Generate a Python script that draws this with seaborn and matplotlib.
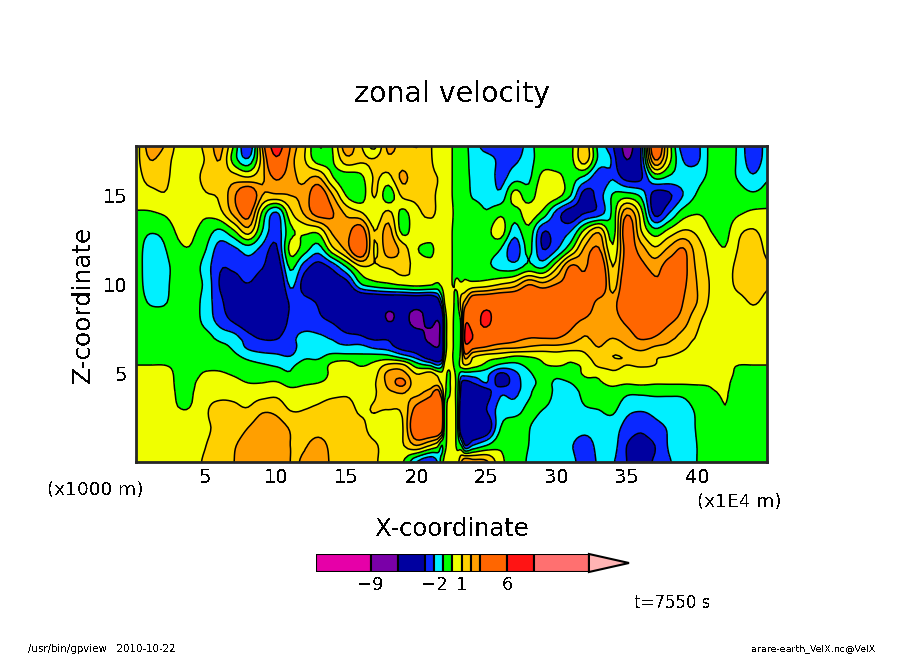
import numpy as np
import matplotlib
matplotlib.use("Agg")
import matplotlib.pyplot as plt
from matplotlib.colors import BoundaryNorm, ListedColormap
from matplotlib.ticker import MultipleLocator
import seaborn as sns

# Grid (x in 1E4 m, z in 1000 m)
x_coord = list(range(0, 22)) + [21.5, 21.8, 22.0, 22.3, 22.55, 22.9, 23.2, 23.5] + list(range(24, 46))
z_coord = [17.8, 17, 16, 15, 14, 13, 12, 11, 10, 9, 8, 7, 6.5, 6, 5.5, 5, 4.5, 4, 3, 2, 1, 0.07]

velx = [
    # z=17.8
    [0.6,2.5,2.0,0.7,0.5,1.3,2.3,-0.2,-3.0,2.0,7.5,3.0,1.2,-1.0,0.0,2.6,1.2,-0.3,2.3,1.5,2.1,1.1,
     0.7,0.6,0.5,0.5,0.0,-0.4,-0.6,-0.8,
     -1.5,-2.4,-2.5,-2.7,-1.5,-0.4,-0.9,-0.3,1.6,-1.4,-2.8,-7.0,-3.0,4.5,0.6,-2.5,-2.3,-0.7,-0.6,-1.2,-3.0,-1.5],
    # z=17
    [0.7,2.0,1.5,0.6,0.5,1.1,2.0,-0.5,-1.8,1.5,5.5,2.5,1.1,-0.5,-0.1,1.6,1.2,1.1,1.7,1.5,1.2,1.1,
     0.6,0.5,0.5,0.5,0.0,-0.4,-0.5,-0.6,
     -1.5,-1.6,-2.2,-2.2,-1.4,-0.5,-0.7,-0.3,1.5,-1.3,-2.2,-6.0,-3.0,3.0,0.4,-2.0,-2.2,-0.7,-0.6,-1.2,-2.7,-1.5],
    # z=16
    [0.6,1.4,1.3,0.5,0.6,1.3,1.5,1.5,1.1,1.8,3.2,2.3,1.8,2.1,0.1,-0.5,-0.3,1.1,0.7,2.2,1.3,1.2,
     1.0,0.7,0.6,0.6,0.0,-0.4,-0.5,-0.7,
     -1.2,-1.3,-2.3,-1.4,-1.2,0.3,0.3,-0.5,-1.3,-2.7,-2.1,-3.5,-3.2,-0.8,-1.2,-1.5,-1.3,-0.8,-0.7,-1.1,-1.8,-1.1],
    # z=15
    [0.5,0.6,0.9,0.5,0.5,0.9,1.2,2.8,4.5,2.0,1.8,2.0,2.3,4.0,2.1,-0.05,-0.6,1.1,-0.6,1.2,1.2,1.2,
     0.9,0.6,0.5,0.5,0.0,-0.4,-0.5,-0.6,
     -1.1,-1.3,-1.7,0.4,-0.5,0.7,0.4,-1.0,-3.5,-2.5,-0.9,-0.5,-1.2,-3.5,-3.2,-2.0,-0.9,-0.6,-0.5,-0.6,-0.8,-0.6],
    # z=14
    [-0.1,-0.1,0.1,0.5,0.5,0.2,0.7,2.3,3.5,-0.2,-2.2,0.7,2.1,3.5,3.1,1.8,1.2,0.2,1.3,-0.3,0.8,1.1,
     0.9,0.6,0.5,0.5,0.1,-0.4,-0.4,-0.4,
     -0.4,-0.9,-0.2,-0.5,0.5,-0.3,-2.4,-3.6,-3.0,-2.5,-0.7,2.8,0.5,-3.3,-2.0,-0.5,-0.05,-0.3,-0.4,-0.1,0.2,0.2],
    # z=13
    [-0.5,-0.9,-0.7,0.15,0.15,-0.5,-1.2,-0.1,1.5,-1.0,-2.6,-0.3,0.2,0.3,2.2,2.5,3.8,1.0,2.4,-0.3,0.7,0.6,
     0.6,0.5,0.5,0.5,0.0,-0.5,-0.4,-0.4,
     -0.4,-0.3,0.5,-1.5,-0.3,-2.9,-2.5,-2.0,0.3,1.8,-0.5,4.0,1.1,-0.6,0.3,1.1,0.8,0.0,-0.3,0.8,1.1,0.6],
    # z=12
    [-0.5,-1.5,-1.1,-0.2,-0.1,-1.0,-2.5,-2.2,-1.5,-2.3,-3.2,0.3,-0.5,-1.5,0.7,2.3,4.5,0.9,2.6,1.6,0.1,-0.2,
     0.3,0.4,0.5,0.5,0.0,-0.5,-0.5,-0.4,
     -0.1,-0.5,-1.0,-2.7,-0.7,-3.0,-2.1,-0.2,2.2,3.1,0.2,3.5,2.5,1.2,2.2,3.1,1.5,0.6,0.05,1.1,1.6,0.8],
    # z=11
    [-0.5,-1.6,-1.3,-0.6,-0.5,-1.5,-2.9,-2.8,-2.4,-2.9,-4.0,-0.8,-2.5,-3.5,-2.7,-1.0,0.8,0.9,1.1,1.3,0.7,0.3,
     0.5,0.5,0.5,0.5,0.0,-0.3,-0.2,-0.3,
     -0.6,-0.8,-1.3,-1.5,-0.7,-1.2,0.8,3.2,2.8,4.5,1.0,3.8,3.4,2.6,3.5,3.4,1.8,0.8,0.6,1.3,1.7,1.1],
    # z=10
    [-0.4,-1.6,-1.3,-0.5,-0.5,-1.3,-3.1,-3.5,-3.1,-4.0,-5.0,-1.8,-3.5,-4.5,-4.0,-3.6,-1.2,-0.5,-0.2,0.1,0.3,0.1,
     -0.2,0.2,0.5,0.6,0.0,0.1,0.1,0.3,
     0.4,0.6,1.1,1.6,3.0,2.4,3.1,3.6,3.7,5.0,1.5,4.5,4.4,3.4,3.2,3.2,2.0,0.9,0.6,1.3,1.7,1.1],
    # z=9
    [-0.4,-1.1,-1.1,-0.5,-0.5,-1.5,-2.7,-4.0,-5.0,-5.0,-5.0,-2.8,-2.6,-3.2,-5.0,-5.0,-5.0,-5.0,-5.0,-5.0,-5.0,-5.0,
     -4.0,-2.0,0.0,0.6,0.3,-0.3,1.5,2.5,
     4.5,5.0,5.0,5.0,5.0,5.0,5.0,5.0,4.5,2.5,2.5,4.5,5.0,5.0,4.5,3.0,2.0,0.8,0.5,0.6,1.1,0.7],
    # z=8
    [-0.4,-0.4,-0.4,-0.4,-0.5,-1.4,-2.4,-3.2,-4.0,-4.5,-4.5,-2.7,-2.5,-2.7,-3.2,-4.0,-4.0,-4.5,-6.1,-5.5,-6.5,-5.5,
     -6.0,-5.0,-1.0,0.5,0.2,-0.6,0.5,5.5,
     5.0,6.5,4.5,5.0,4.5,4.3,4.0,3.5,2.8,2.3,2.5,3.3,4.0,4.0,3.3,2.5,1.3,0.5,0.4,0.4,0.4,0.4],
    # z=7
    [-0.35,-0.35,-0.35,-0.35,-0.4,-0.6,-1.3,-1.6,-2.6,-3.1,-3.1,-2.3,-1.7,-1.8,-2.1,-2.6,-2.8,-3.2,-3.3,-4.5,-5.0,-6.5,
     -6.5,-5.0,-1.0,0.5,0.2,-0.7,0.5,7.0,
     6.0,4.5,4.0,3.5,3.0,3.0,3.0,2.6,1.9,2.4,2.0,2.5,3.1,2.9,2.3,1.6,0.9,0.4,0.3,0.3,0.3,0.3],
    # z=6.5
    [-0.3,-0.3,-0.3,-0.3,-0.35,-0.4,-0.7,-1.2,-2.2,-2.6,-2.6,-2.5,-1.4,-1.5,-1.7,-1.8,-1.7,-2.2,-2.5,-3.5,-4.0,-5.5,
     -6.0,-5.0,-1.0,0.5,0.2,-0.7,0.5,5.0,
     3.5,2.9,2.3,2.2,1.9,1.7,1.7,1.5,1.3,2.0,1.3,1.9,2.4,1.9,1.7,1.2,0.6,0.25,0.25,0.25,0.25,0.25],
    # z=6
    [-0.25,-0.25,-0.25,-0.25,-0.3,-0.3,-0.5,-0.8,-1.3,-1.6,-1.8,-2.0,-1.2,-1.2,-0.7,-0.7,-0.8,-0.7,-0.8,-1.6,-2.5,-4.0,
     -4.5,-4.0,-0.5,0.5,0.1,-0.7,0.5,2.5,
     1.2,0.6,0.4,0.0,0.1,0.3,0.5,0.3,0.8,1.5,1.0,1.1,1.4,1.1,1.0,0.7,0.4,0.2,0.2,0.2,0.2,0.2],
    # z=5.5
    [0.0,0.0,0.0,-0.1,-0.15,-0.2,-0.2,-0.4,-0.7,-0.9,-1.1,-1.2,-0.6,-0.6,0.2,0.5,-0.1,0.3,1.2,1.2,-0.5,-1.2,
     -2.0,-1.5,0.2,0.4,0.2,-0.5,0.5,1.0,
     0.5,-0.3,-1.2,-1.3,-0.7,-0.1,0.1,-0.1,0.2,1.2,1.2,1.0,1.1,1.0,0.6,0.3,0.2,0.2,0.1,0.0,0.0,0.0],
    # z=5
    [0.2,0.2,0.2,-0.1,-0.2,0.1,0.1,-0.1,-0.4,-0.4,-0.6,-0.9,-0.2,-0.4,0.2,0.6,0.6,0.7,2.3,2.4,1.0,1.4,
     0.7,0.3,0.5,-0.3,0.4,-0.4,-1.5,-1.5,
     -1.5,-1.7,-3.2,-2.3,-1.2,-0.6,-0.8,-0.5,0.1,0.2,0.8,0.6,0.6,0.5,0.2,0.1,0.1,0.1,0.15,-0.1,-0.1,-0.1],
    # z=4.5
    [0.3,0.3,0.3,-0.1,-0.1,0.4,0.5,0.3,0.0,0.0,0.1,-0.3,-0.1,0.0,0.3,0.8,0.8,0.9,2.3,3.3,1.2,1.4,
     1.5,0.8,0.3,-0.3,0.4,-0.4,-3.0,-3.5,
     -3.0,-2.0,-3.5,-2.5,-1.4,-0.8,-1.1,-1.0,-0.3,-0.1,0.2,0.1,0.2,0.1,0.1,0.1,0.1,0.05,0.1,-0.2,-0.2,-0.2],
    # z=4
    [0.4,0.4,0.4,-0.08,-0.05,0.6,0.7,0.7,0.5,0.5,0.7,0.3,0.4,0.5,0.7,0.9,0.8,0.9,1.8,2.1,1.6,2.5,
     3.5,2.0,0.3,-0.3,0.4,-0.5,-3.5,-5.0,
     -5.0,-3.5,-2.2,-2.3,-1.2,-0.6,-1.2,-1.4,-0.7,-0.4,-0.3,-0.8,-0.8,-0.75,-0.8,-0.8,-0.5,-0.1,0.05,-0.25,-0.25,-0.25],
    # z=3
    [0.5,0.5,0.5,0.05,0.1,0.9,1.3,1.2,1.1,1.8,1.7,0.95,1.0,1.2,1.5,1.3,0.9,1.05,1.0,1.2,3.5,4.5,
     5.0,4.5,-0.3,0.7,0.5,-0.5,-4.5,-5.0,
     -5.0,-3.0,-1.6,-1.4,-0.8,-1.0,-1.3,-1.4,-1.1,-1.0,-0.8,-1.7,-1.9,-1.7,-1.5,-1.3,-0.9,-0.6,-0.05,-0.5,-0.5,-0.5],
    # z=2
    [0.5,0.5,0.6,0.7,0.7,0.9,1.2,1.4,2.0,2.6,2.5,1.9,1.4,1.5,1.4,1.3,1.2,0.7,0.5,0.9,4.5,5.0,
     5.0,4.0,-0.3,0.7,0.6,-0.5,-4.5,-5.0,
     -5.0,-4.0,-1.0,-0.5,-0.95,-1.4,-1.5,-1.5,-1.6,-1.5,-1.5,-2.4,-2.8,-2.3,-1.9,-1.4,-0.95,-0.6,-0.5,-0.5,-0.5,-0.5],
    # z=1
    [0.6,0.6,0.6,0.7,0.7,1.0,1.3,1.9,2.5,2.6,2.7,2.0,1.9,2.4,1.7,1.4,1.3,1.1,0.7,0.9,2.0,1.0,
     0.3,-1.0,-0.4,0.5,0.6,-0.2,-1.0,-3.0,
     -2.0,-1.0,-0.2,-0.6,-1.0,-1.5,-1.6,-1.9,-2.5,-1.7,-1.6,-3.0,-3.3,-3.0,-1.9,-1.4,-1.0,-0.8,-0.5,-0.5,-0.5,-0.5],
    # z=0.1
    [0.6,0.6,0.7,0.7,0.8,1.1,1.3,2.0,2.5,2.7,2.8,2.0,2.1,2.6,1.8,1.4,1.3,1.1,0.6,0.1,-2.0,-3.0,
     -2.0,-0.5,0.3,0.6,0.6,0.5,2.0,3.0,
     2.5,2.2,0.3,-0.5,-1.1,-1.5,-1.8,-1.7,-2.5,-1.9,-1.9,-3.0,-3.2,-2.9,-2.1,-1.6,-1.0,-0.7,-0.6,-0.6,-0.6,-0.6],
]

levels = [-15, -9, -6, -3, -2, -1, 0, 1, 2, 3, 6, 9, 15]
level_colors = ["#e600a8", "#7a00a8", "#0000a0", "#0a28ff", "#00f0ff", "#00ff00",
                "#f0ff00", "#ffd000", "#ff9f00", "#ff6600", "#ff1414", "#ff7070"]
over_color = "#ffb4b4"
key_ticks = [-9, -2, 1, 6]
x_ticks = [5, 10, 15, 20, 25, 30, 35, 40]
z_ticks = [5, 10, 15]


def refine(values, axis, factor=5):
    # Catmull-Rom through the read values, so contours come out round
    v = np.moveaxis(values, axis, 0)
    n = v.shape[0]
    u = np.linspace(0, n - 1, (n - 1) * factor + 1)
    i = np.minimum(u.astype(int), n - 2)
    t = (u - i)[:, None]
    p0, p1 = v[np.maximum(i - 1, 0)], v[i]
    p2, p3 = v[i + 1], v[np.minimum(i + 2, n - 1)]
    out = 0.5 * (2 * p1 + (p2 - p0) * t + (2 * p0 - 5 * p1 + 4 * p2 - p3) * t ** 2
                 + (3 * p1 - p0 - 3 * p2 + p3) * t ** 3)
    return np.moveaxis(out, 0, axis)


def refine_coord(coord, factor=5):
    n = len(coord)
    return np.interp(np.linspace(0, n - 1, (n - 1) * factor + 1), np.arange(n), coord)


sns.set_theme(style="ticks", rc={"axes.linewidth": 2.0, "lines.antialiased": False,
                                 "text.antialiased": False})
plt.rcParams["font.family"] = ["DejaVu Sans"]

palette = sns.color_palette(level_colors)
cmap = ListedColormap(palette)
cmap.set_over(over_color)
norm = BoundaryNorm(levels, cmap.N)

W, H = 904, 654
fig = plt.figure(figsize=(W / 100, H / 100), dpi=100)
ax = fig.add_axes([136 / W, 1 - 462 / H, 631 / W, 316 / H])

field = refine(refine(np.array(velx), 0), 1)
xx, zz = np.meshgrid(refine_coord(x_coord), refine_coord(z_coord))
ax.contourf(xx, zz, field, levels=levels, cmap=cmap, norm=norm, extend="max", antialiased=False)
ax.contour(xx, zz, field, levels=levels, colors="black", linewidths=1.1, linestyles="solid")

ax.set_xlim(0, 45)
ax.set_ylim(0.07, 17.77)
ax.set_xticks(x_ticks)
ax.set_yticks(z_ticks)
ax.xaxis.set_minor_locator(MultipleLocator(1))
ax.yaxis.set_minor_locator(MultipleLocator(1))
ax.tick_params(which="major", direction="in", length=8, width=1.6, top=True, right=True,
               labelsize=14, color="black", labelcolor="black")
ax.tick_params(axis="x", which="major", pad=4)
ax.tick_params(axis="y", which="major", pad=6)
ax.tick_params(which="minor", direction="in", length=4, width=1, top=True, right=True, color="black")
ax.grid(False)
sns.despine(ax=ax, top=False, right=False)

fig.text(452 / W, 1 - 94 / H, "zonal velocity", ha="center", va="center", fontsize=20.5, color="black")
fig.text(452 / W, 1 - 529 / H, "X-coordinate", ha="center", va="center", fontsize=17.5, color="black")
fig.text(83 / W, 1 - 304 / H, "Z-coordinate", ha="center", va="center", rotation=90, fontsize=17.7, color="black")
fig.text(95 / W, 1 - 490 / H, "(x1000 m)", ha="center", va="center", fontsize=13.3, color="black")
fig.text(739 / W, 1 - 502 / H, "(x1E4 m)", ha="center", va="center", fontsize=13.3, color="black")
fig.text(672 / W, 1 - 603 / H, "t=7550 s", ha="center", va="center", fontsize=12, color="black")
fig.text(102 / W, 1 - 649 / H, "/usr/bin/gpview   2010-10-22", ha="center", va="center", fontsize=7.4, color="black")
fig.text(814 / W, 1 - 649 / H, "arare-earth_VelX.nc@VelX", ha="center", va="center", fontsize=6.8, color="black")

# colour key: drawn in value space, the arrow tail past the last level
key = fig.add_axes([316 / W, 1 - 572 / H, 313 / W, 18 / H])
key.set_axis_off()
key.set_xlim(-15, 19.4)
key.set_ylim(-0.5, 0.5)
key.barh(0, np.diff(levels), left=levels[:-1], height=1, color=palette, edgecolor="black", linewidth=1.5)
key.fill([15, 19.4, 15], [-0.5, 0, 0.5], facecolor=over_color, edgecolor="black", linewidth=1.5, clip_on=False)
for tick in key_ticks:
    key.text(tick, -1.25, f"{tick}".replace("-", "\u2212"), ha="center", va="center", fontsize=13,
             color="black", clip_on=False)

fig.savefig("out.png", dpi=100, facecolor="white")
